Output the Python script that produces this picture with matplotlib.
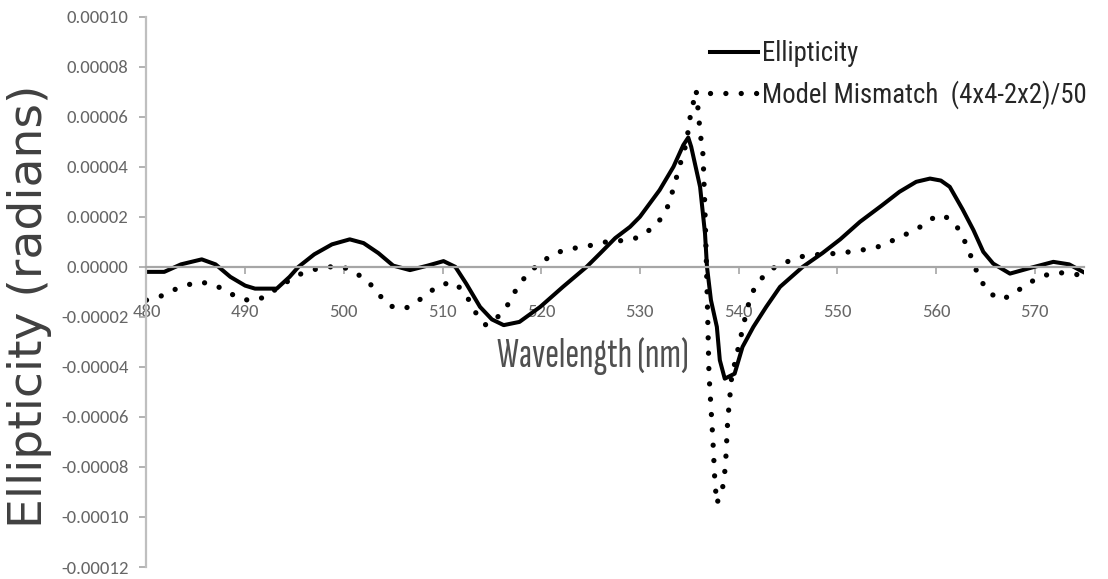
import numpy as np
import matplotlib
matplotlib.use("Agg")
import matplotlib.pyplot as plt

# Ellipticity (radians, x1e-5) against wavelength (nm)
wl_ell = [480.0, 481.8, 483.5, 485.6, 487.0, 488.5, 490.0, 491.0, 493.2, 494.5,
          495.4, 497.0, 498.8, 500.6, 502.0, 503.5, 505.0, 506.7, 508.5, 510.1,
          511.3, 512.4, 513.8, 515.0, 516.2, 517.8, 519.9, 522.2, 524.6, 526.0,
          527.5, 529.0, 530.0, 532.0, 533.4, 534.4, 534.9, 535.2, 536.1, 536.6,
          536.8, 537.2, 537.8, 538.1, 538.6, 539.6, 540.4, 541.5, 542.8, 544.2,
          546.5, 548.5, 550.3, 552.3, 554.5, 556.3, 558.0, 559.4, 560.5, 561.4,
          562.7, 563.8, 564.8, 565.8, 567.5, 569.5, 571.9, 573.5, 574.9]
ell = [-0.20, -0.20, 0.10, 0.30, 0.10, -0.40, -0.75, -0.87, -0.87, -0.40,
       0.00, 0.50, 0.90, 1.10, 0.95, 0.55, 0.05, -0.13, 0.05, 0.23,
       0.00, -0.67, -1.60, -2.10, -2.33, -2.20, -1.60, -0.80, 0.00, 0.55,
       1.15, 1.60, 2.00, 3.07, 4.00, 4.87, 5.17, 4.80, 3.20, 1.33,
       0.00, -1.33, -2.40, -3.73, -4.47, -4.27, -3.20, -2.40, -1.60, -0.80,
       0.00, 0.55, 1.10, 1.80, 2.45, 3.00, 3.40, 3.53, 3.45, 3.20,
       2.30, 1.47, 0.60, 0.13, -0.27, -0.05, 0.20, 0.10, -0.20]

# Model mismatch (4x4-2x2)/50, same units
wl_mm = [480.0, 481.3, 482.7, 484.1, 485.3, 486.7, 488.1, 489.4, 490.8, 492.0,
         493.2, 494.5, 495.7, 497.1, 498.4, 499.9, 501.2, 502.5, 503.5, 504.7,
         506.2, 507.4, 508.7, 509.9, 511.3, 512.4, 513.3, 514.4, 515.6, 516.7,
         517.6, 518.6, 519.8, 521.1, 522.3, 523.7, 525.2, 526.6, 527.9, 529.3,
         530.5, 531.8, 532.8, 533.4, 534.0, 534.7, 535.1, 535.7, 535.9, 536.1,
         536.4, 536.6, 536.75, 536.9, 537.0, 537.2, 537.4, 537.6, 537.8, 538.5,
         538.7, 538.8, 538.9, 539.1, 539.3, 539.8, 540.3, 540.8, 541.3, 542.3,
         543.7, 544.9, 546.2, 547.5, 548.9, 550.3, 551.7, 553.0, 554.4, 555.7,
         557.0, 558.3, 559.6, 560.8, 562.1, 563.0, 563.7, 564.4, 565.5, 566.7,
         568.0, 569.2, 570.6, 571.9, 573.3, 574.6]
mm = [-1.33, -1.20, -0.93, -0.73, -0.60, -0.69, -0.96, -1.27, -1.36, -1.20,
      -0.87, -0.53, -0.27, -0.10, 0.00, 0.00, -0.24, -0.60, -1.09, -1.57,
      -1.67, -1.40, -1.00, -0.69, -0.64, -1.13, -1.80, -2.33, -2.00, -1.47,
      -0.80, -0.29, 0.13, 0.47, 0.67, 0.77, 0.87, 1.00, 1.04, 1.10,
      1.33, 1.73, 2.40, 3.13, 4.00, 4.93, 6.00, 7.07, 6.27, 5.40,
      4.47, 2.20, 0.00, -2.50, -4.27, -5.60, -6.93, -8.60, -9.47, -8.67,
      -7.73, -6.93, -6.13, -5.27, -4.40, -3.53, -2.67, -1.80, -1.07, -0.47,
      0.00, 0.20, 0.40, 0.47, 0.53, 0.53, 0.64, 0.70, 0.83, 1.07,
      1.31, 1.57, 1.93, 2.07, 1.63, 0.96, 0.27, -0.47, -1.07, -1.31,
      -1.04, -0.69, -0.40, -0.24, -0.24, -0.33]

xticks = [480, 490, 500, 510, 520, 530, 540, 550, 560, 570]
yticks = np.arange(-12, 11, 2) * 1e-5

narrow = ['Sofia Sans Extra Condensed', 'DejaVu Sans']
cond = ['Roboto Condensed', 'DejaVu Sans']
calib = ['Carlito', 'DejaVu Sans']

fig = plt.figure(figsize=(11.08, 5.79), dpi=100)
ax = fig.add_axes([0.1322, 0.0207, 0.8461, 0.9504])

ax.plot(wl_ell, np.array(ell) * 1e-5, color='black', lw=2.9,
        solid_joinstyle='round', label='Ellipticity')
ax.plot(wl_mm, np.array(mm) * 1e-5, color='black', lw=3.8,
        linestyle=(0, (0.01, 2.9)), dash_capstyle='round',
        label='Model Mismatch  (4x4-2x2)/50')

ax.set_xlim(480, 575)
ax.set_ylim(-0.00012, 0.00010)

grey = '#a6a6a6'
for s in ['top', 'right']:
    ax.spines[s].set_visible(False)
ax.spines['bottom'].set_position(('data', 0))
ax.spines['bottom'].set_color(grey)
ax.spines['bottom'].set_linewidth(1.6)
ax.spines['left'].set_color('#bfbfbf')
ax.spines['left'].set_linewidth(1.6)

ax.set_xticks(xticks)
ax.set_yticks(yticks)
ax.set_yticklabels([f'{v:.5f}' for v in yticks])
for lab in ax.get_xticklabels() + ax.get_yticklabels():
    lab.set(family=calib, size=13.5)
ax.tick_params(axis='x', direction='out', length=5, width=1.2, color=grey,
               pad=22, labelcolor='#666666')
ax.tick_params(axis='y', direction='out', length=5, width=1.2, color=grey,
               pad=8, labelcolor='#666666')

fig.text(30 / 1108, 1 - 306 / 579, 'Ellipticity (radians)', rotation=90,
         ha='center', va='center', fontsize=34, color='#404040',
         family=['DejaVu Sans'])
fig.text(593 / 1108, 1 - 367 / 579, 'Wavelength (nm)', ha='center',
         va='baseline', fontsize=30, color='#505050', family=narrow,
         weight='semibold')

leg = ax.legend(loc='upper left', bbox_to_anchor=(710 / 1108, 1 - 40 / 579),
                bbox_transform=fig.transFigure, frameon=False,
                handlelength=1.8, handletextpad=0.15, labelspacing=0.48,
                borderpad=0, borderaxespad=0,
                prop={'family': cond, 'size': 19.3})
for t in leg.get_texts():
    t.set_color('#262626')

fig.savefig('out.png', dpi=100)
